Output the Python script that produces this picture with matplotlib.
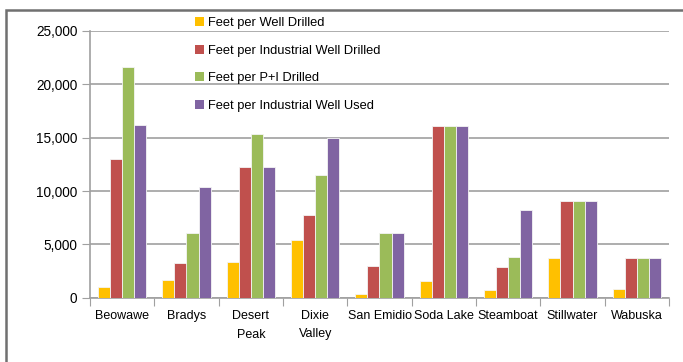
import numpy as np
import matplotlib.pyplot as plt
from matplotlib.patches import Patch, Rectangle

plt.rcParams['font.family'] = ['Liberation Sans', 'DejaVu Sans']

sites = ['Beowawe', 'Bradys', 'Desert\nPeak', 'Dixie\nValley', 'San Emidio',
         'Soda Lake', 'Steamboat', 'Stillwater', 'Wabuska']

series_names = ['Feet per Well Drilled', 'Feet per Industrial Well Drilled',
                'Feet per P+I Drilled', 'Feet per Industrial Well Used']

well_drilled = [1000, 1700, 3350, 5380, 350, 1560, 750, 3720, 840]
industrial_drilled = [12970, 3250, 12220, 7780, 2970, 16090, 2850, 9060, 3690]
pi_drilled = [21650, 6030, 15340, 11470, 6030, 16090, 3790, 9060, 3690]
industrial_used = [16210, 10370, 12220, 15000, 6030, 16090, 8190, 9060, 3690]

colors = ['#FFC000', '#C0504D', '#9BBB59', '#8064A2']

fig = plt.figure(figsize=(6.83, 3.62), dpi=100)
ax = fig.add_axes([90 / 683, 1 - 297.7 / 362, 579 / 683, 266.7 / 362])

# outer chart frame, cut off at the right and bottom like the screenshot
top = 1 - 10 / 362
fig.patches.append(Rectangle((6 / 683, -0.1), 2.0, top + 0.1,
                             transform=fig.transFigure, fill=False,
                             edgecolor='#707070', linewidth=1.8, clip_on=False))

x = np.arange(len(sites))
w = 0.187
all_series = [well_drilled, industrial_drilled, pi_drilled, industrial_used]
for i, vals in enumerate(all_series):
    ax.bar(x + (i - 1.5) * w, vals, width=w, color=colors[i],
           edgecolor='#f4f4f4', linewidth=0.6, zorder=3)

ax.set_xlim(-0.5, len(sites) - 0.5)
ax.set_ylim(0, 25000)
ax.set_yticks(np.arange(0, 25001, 5000))
ax.set_yticklabels([f'{v:,}' for v in range(0, 25001, 5000)])
ax.yaxis.grid(True, color='#a0a0a0', linewidth=1.2, zorder=0)
ax.tick_params(axis='y', length=6, color='#a0a0a0', labelsize=9.8, pad=3)

ax.set_xticks(np.arange(len(sites) + 1) - 0.5)
ax.set_xticklabels([])
ax.set_xticks(x, minor=True)
ax.set_xticklabels(sites, minor=True, linespacing=1.7, va='top')
ax.tick_params(axis='x', which='major', length=6, color='#a0a0a0')
ax.tick_params(axis='x', which='minor', length=0, labelsize=9, pad=9)

for s in ['top', 'right']:
    ax.spines[s].set_visible(False)
for s in ['left', 'bottom']:
    ax.spines[s].set_color('#a0a0a0')
    ax.spines[s].set_linewidth(1.2)

handles = [Patch(facecolor=c, edgecolor='none') for c in colors]
fig.legend(handles, series_names, loc='upper left',
           bbox_to_anchor=(195 / 683, 1 - 17 / 362), frameon=False,
           fontsize=9.3, handlelength=0.7, handleheight=0.7,
           handletextpad=0.3, labelspacing=1.2, borderpad=0, borderaxespad=0)

fig.savefig('out.png', dpi=100)
